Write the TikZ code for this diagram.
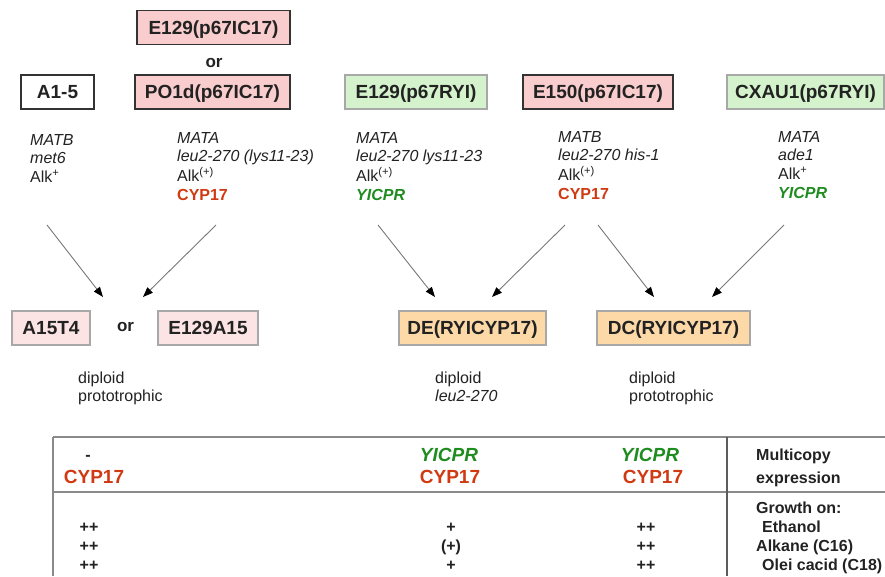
\documentclass[tikz,border=0pt]{standalone}
\usepackage{fontspec}
\setmainfont{Liberation Sans}
\usetikzlibrary{arrows.meta}
\definecolor{pinkfill}{HTML}{F9CDCD}
\definecolor{lpinkfill}{HTML}{FDE4E4}
\definecolor{greenfill}{HTML}{D4F2CB}
\definecolor{orangefill}{HTML}{FDD9A8}
\definecolor{darkb}{HTML}{333333}
\definecolor{grayb}{HTML}{A8A8A8}
\definecolor{cypred}{HTML}{D03A12}
\definecolor{cprgreen}{HTML}{1E8C1E}
\definecolor{txt}{HTML}{222222}
\definecolor{arrgray}{HTML}{777777}
\definecolor{tabline}{HTML}{8A8A8A}
\newcommand{\lineblock}[1]{\begin{tabular}[t]{@{}l@{}}#1\end{tabular}}
\newcommand{\cyp}{{\color{cypred}\bfseries CYP17}}
\newcommand{\cpr}{{\color{cprgreen}\bfseries\itshape YICPR}}
\begin{document}
\begin{tikzpicture}[x=1pt,y=-1pt,
  boxbase/.style={minimum height=34pt, inner sep=0pt, line width=1.1pt, text=txt,
     text height=13.6pt, text depth=0pt,
     font=\fontsize{19}{22}\selectfont\bfseries},
  pinkbox/.style={boxbase, draw=darkb, fill=pinkfill},
  whitebox/.style={boxbase, draw=darkb, fill=white},
  greenbox/.style={boxbase, draw=grayb, fill=greenfill},
  lpinkbox/.style={boxbase, draw=grayb, fill=lpinkfill},
  orangebox/.style={boxbase, draw=grayb, fill=orangefill},
  ortext/.style={font=\fontsize{17}{20}\selectfont\bfseries, text=txt, inner sep=0pt,
     text height=8.8pt, text depth=0pt},
  genotype/.style={anchor=base west, inner sep=0pt, text=txt,
     font=\fontsize{16}{18.7}\selectfont},
  arr/.style={draw=arrgray, line width=0.9pt, -{Triangle[length=10pt,width=7.5pt,color=black]}},
  tabrule/.style={draw=tabline, line width=1.3pt},
  tabvrule/.style={draw=darkb!80, line width=1.1pt},
  bigcell/.style={anchor=base, inner sep=0pt, font=\fontsize{19}{22}\selectfont},
  cell/.style={anchor=base, inner sep=0pt, text=txt, font=\fontsize{16}{19}\selectfont\bfseries},
  rlabel/.style={anchor=base west, inner sep=0pt, text=txt, font=\fontsize{16}{19}\selectfont\bfseries}
]
\useasboundingbox (0,0) rectangle (885,576);

% top strain boxes
\node[pinkbox, minimum width=153pt] (e129top) at (213.5,27.5) {E129(p67IC17)};
\node[ortext] (or1) at (214,63) {or};
\node[whitebox, minimum width=73pt] (a15) at (57.5,92) {A1-5};
\node[pinkbox, minimum width=155pt] (po1d) at (212.5,92) {PO1d(p67IC17)};
\node[greenbox, minimum width=142pt] (e129ryi) at (416,92) {E129(p67RYI)};
\node[pinkbox, minimum width=150pt] (e150) at (598,92) {E150(p67IC17)};
\node[greenbox, minimum width=157pt] (cxau1) at (805.5,92) {CXAU1(p67RYI)};

% genotypes
\node[genotype] (g1) at (30,145) {\lineblock{\itshape MATB\\ \itshape met6\\ Alk\textsuperscript{+}}};
\node[genotype] (g2) at (177,143) {\lineblock{\itshape MATA\\ \itshape leu2-270 (lys11-23)\\ Alk\textsuperscript{(+)}\\ \cyp}};
\node[genotype] (g3) at (356,143) {\lineblock{\itshape MATA\\ \itshape leu2-270 lys11-23\\ Alk\textsuperscript{(+)}\\ \cpr}};
\node[genotype] (g4) at (558,142) {\lineblock{\itshape MATB\\ \itshape leu2-270 his-1\\ Alk\textsuperscript{(+)}\\ \cyp}};
\node[genotype] (g5) at (778,142) {\lineblock{\itshape MATA\\ \itshape ade1\\ Alk\textsuperscript{+}\\ \cpr}};

% diploid boxes
\node[lpinkbox, minimum width=78pt] (a15t4) at (51,328) {A15T4};
\node[ortext] (or2) at (125.5,327) {or};
\node[lpinkbox, minimum width=100pt] (e129a15) at (208,328) {E129A15};
\node[orangebox, minimum width=147pt] (de) at (472.5,328) {DE(RYICYP17)};
\node[orangebox, minimum width=153pt] (dc) at (673.5,328) {DC(RYICYP17)};

\node[genotype] (d1) at (78,383) {\lineblock{diploid\\ prototrophic}};
\node[genotype] (d2) at (435,383) {\lineblock{diploid\\ \itshape leu2-270}};
\node[genotype] (d3) at (629,383) {\lineblock{diploid\\ prototrophic}};

% arrows
\coordinate (s1) at (47,225);  \coordinate (t1) at (103,297);
\coordinate (s2) at (216,225); \coordinate (t2) at (143,297);
\coordinate (s3) at (378,225); \coordinate (t3) at (435,297);
\coordinate (s4) at (565,225); \coordinate (t4) at (492,297);
\coordinate (s5) at (598,225); \coordinate (t5) at (654,297);
\coordinate (s6) at (784,225); \coordinate (t6) at (712,297);
\draw[arr] (s1) -- (t1);
\draw[arr] (s2) -- (t2);
\draw[arr] (s3) -- (t3);
\draw[arr] (s4) -- (t4);
\draw[arr] (s5) -- (t5);
\draw[arr] (s6) -- (t6);

% table
\coordinate (tl) at (53,437); \coordinate (tr) at (885,437);
\coordinate (ml) at (53,492); \coordinate (mr) at (885,492);
\coordinate (bl) at (53,576);
\coordinate (vt) at (727,437); \coordinate (vb) at (727,576);
\draw[tabrule] (tl) -- (tr);
\draw[tabrule] (ml) -- (mr);
\draw[tabrule] (tl) -- (bl);
\draw[tabvrule] (vt) -- (vb);

\node[cell] (c1a) at (88,460) {-};
\node[bigcell] (c1b) at (94,483) {\cyp};
\node[bigcell] (c2a) at (449,461) {\cpr};
\node[bigcell] (c2b) at (450,483) {\cyp};
\node[bigcell] (c3a) at (650,461) {\cpr};
\node[bigcell] (c3b) at (653,483) {\cyp};

\node[rlabel] (r1) at (756,460) {Multicopy};
\node[rlabel] (r2) at (756,483) {expression};
\node[rlabel] (r3) at (756,513) {Growth on:};
\node[rlabel] (r4) at (762,532) {Ethanol};
\node[rlabel] (r5) at (756,551) {Alkane (C16)};
\node[rlabel] (r6) at (762,570) {Olei cacid (C18)};

\node[cell] (p11) at (89,532) {++};
\node[cell] (p12) at (89,551) {++};
\node[cell] (p13) at (89,570) {++};
\node[cell] (p21) at (451,532) {+};
\node[cell] (p22) at (451,551) {(+)};
\node[cell] (p23) at (451,570) {+};
\node[cell] (p31) at (646,532) {++};
\node[cell] (p32) at (646,551) {++};
\node[cell] (p33) at (646,570) {++};
\end{tikzpicture}
\end{document}
